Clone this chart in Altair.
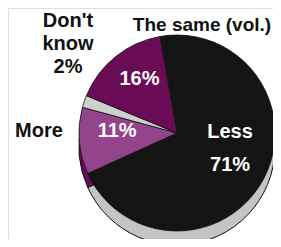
import math
import altair as alt
import pandas as pd

# ---- data ----
categories = ["Less", "More", "Don't know", "The same (vol.)"]
values = [71, 11, 2, 16]
inner_labels = ["Less\n71%", "11%", "", "16%"]
outer_dont_know = "Don't\nknow\n2%"
outer_same = "The same (vol.)"
outer_more = "More"

slice_colors = ["#141414", "#93448a", "#cfcfcf", "#6a0b55"]
side_colors = ["#c4c4c4", "#6a0b55", "#c4c4c4", "#6a0b55"]

df = pd.DataFrame({
    "category": categories,
    "value": values,
    "inner": inner_labels,
    "order": list(range(len(categories))),
})

start = -10 * math.pi / 180
theta = alt.Theta("value:Q", stack=True,
                  scale=alt.Scale(range=[start, start + 2 * math.pi]))
order = alt.Order("order:Q")
cx, cy = 169, 125
R = 98
FONT = "Liberation Sans"
FS = 20

base = alt.Chart(df)

shadow = base.mark_arc(radius=R, yOffset=14, stroke="#111", strokeWidth=1).encode(
    theta=theta, order=order,
    color=alt.Color("category:N", scale=alt.Scale(domain=categories, range=side_colors), legend=None),
    x=alt.value(cx), y=alt.value(cy),
)

pie = base.mark_arc(radius=R, stroke="#111", strokeWidth=0.8).encode(
    theta=theta, order=order,
    fill=alt.Fill("category:N", scale=alt.Scale(domain=categories, range=slice_colors), legend=None),
    x=alt.value(cx), y=alt.value(cy),
)

def inner(dy, keep_less):
    expr = ("datum.category == 'Less' ? datum.inner : ''" if keep_less
            else "datum.category != 'Less' ? datum.inner : ''")
    return base.transform_calculate(lab=expr).mark_text(
        radius=60, dy=dy, font=FONT, fontSize=FS, fontWeight="bold",
        color="white", lineBreak="\n", lineHeight=33).encode(
        theta=theta, order=order, text="lab:N",
        x=alt.value(cx), y=alt.value(cy),
    )

def outer(txt, x, y, fs=FS, lh=24):
    d = pd.DataFrame({"t": [txt]})
    return alt.Chart(d).mark_text(font=FONT, fontSize=fs, fontWeight="bold", color="#111",
                                  lineBreak="\n", lineHeight=lh, align="center",
                                  baseline="middle").encode(
        text="t:N", x=alt.value(x), y=alt.value(y))

chart = alt.layer(
    shadow, pie, inner(-29, True), inner(-7, False),
    outer(outer_dont_know, 60, 13, FS, 23),
    outer(outer_same, 194, 17, 19),
    outer(outer_more, 31, 123),
).resolve_scale(color="independent", fill="independent", theta="shared").properties(
    width=265, height=231, padding=0,
    autosize=alt.AutoSizeParams(type="none"),
).configure_view(stroke=None).configure(background="white")

chart.save("out.html", embed_options={"renderer": "svg", "actions": False})
